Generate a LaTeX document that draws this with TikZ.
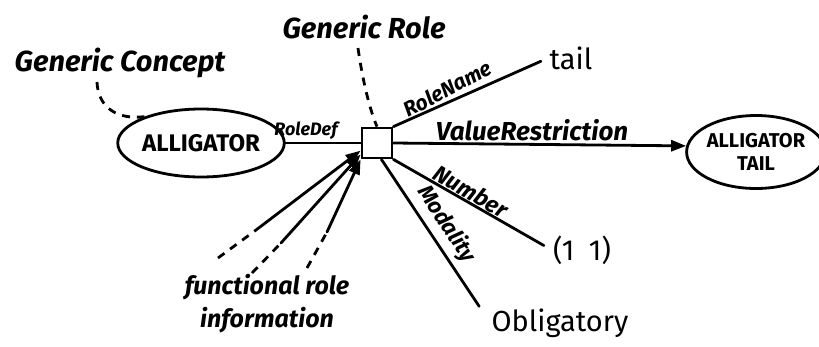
\documentclass[tikz,border=0pt]{standalone}
\usepackage{fontspec}
\setmainfont{Fira Sans}
\usetikzlibrary{arrows.meta,shapes.geometric}
\begin{document}
\begin{tikzpicture}[x=1pt,y=-1pt,line width=2.8pt,line cap=round,
  hand/.style={font=\fontsize{29}{33}\selectfont\bfseries\itshape,inner sep=0pt},
  lab/.style={font=\fontsize{21}{24}\selectfont\bfseries\itshape,inner sep=0pt,anchor=south},
  print/.style={font=\fontsize{29}{34}\selectfont,inner sep=0pt},
  concept/.style={draw,ellipse,inner sep=0pt,font=\fontsize{24}{26}\selectfont\bfseries},
  rolebox/.style={draw,rectangle,minimum size=30pt,inner sep=0pt},
  link/.style={dash pattern=on 8pt off 7pt,line cap=butt},
  tip/.style={-{Triangle[length=15pt,width=11pt]}}]
\useasboundingbox (0,0) rectangle (819,346);

% concepts and the role node
\node[concept,minimum width=132pt,minimum height=68pt] (alli) at (201,143) {ALLIGATOR};
\node[concept,minimum width=124pt,minimum height=73pt,align=center,
      font=\fontsize{20}{23}\selectfont\bfseries] (tailc) at (756,152) {ALLIGATOR\\TAIL};
\node[rolebox] (role) at (377,143) {};

% captions
\node[hand] (gc) at (120,63) {Generic Concept};
\node[hand] (gr) at (364,27) {Generic Role};
\node[print] (tail) at (571,58) {tail};
\node[print] (one) at (582,250) {(1\enspace1)};
\node[print] (obl) at (560,323) {Obligatory};
\node[hand,align=center,font=\fontsize{25}{33}\selectfont\itshape\bfseries] (fri) at (267,304) {functional role\\information};

% links from the captions
\coordinate (gcfoot) at (97,82);
\coordinate (grfoot) at (358,48);
\draw[link] (gcfoot) .. controls (98,108) and (118,120) .. (alli.155);
\draw[link] (grfoot) .. controls (364,90) and (372,115) .. (role.north);

% slots of the role
\draw (alli) -- (role);
\draw[shorten >=8pt] (role.north east) -- (tail.west);
\draw[tip] (role.east) -- (tailc.175);
\draw[shorten >=9pt] (role.south east) -- (one.west);
\draw[shorten >=20pt] (role.-75) -- (obl.west);

% labels on the slots
\node[lab,font=\fontsize{18}{22}\selectfont\bfseries\itshape] at (306,141) {RoleDef};
\node[lab,font=\fontsize{26}{30}\selectfont\bfseries\itshape] at (532,142) {ValueRestriction};
\node[lab,rotate=28] at (452,97) {RoleName};
\node[lab,rotate=-30,font=\fontsize{23}{26}\selectfont\bfseries\itshape] at (466,200) {Number};
\node[lab,rotate=-57,font=\fontsize{22}{25}\selectfont\bfseries\itshape] at (436,231) {Modality};

% functional role information
\coordinate (f1s) at (218,258); \coordinate (f1m) at (256,230);
\coordinate (f2s) at (252,273); \coordinate (f2m) at (281,243);
\coordinate (f3s) at (307,268); \coordinate (f3m) at (327,232);
\draw[link] (f1s) -- (f1m);
\draw[link] (f2s) -- (f2m);
\draw[link] (f3s) -- (f3m);
\draw[tip] (f1m) -- (role.-155);
\draw[tip] (f2m) -- (role.-145);
\draw[tip] (f3m) -- (role.-135);
\end{tikzpicture}
\end{document}
